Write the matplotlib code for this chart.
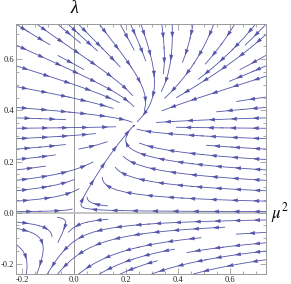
import numpy as np
import matplotlib
matplotlib.use("Agg")
import matplotlib.pyplot as plt
from matplotlib.patches import FancyArrowPatch
from matplotlib.ticker import MultipleLocator

plt.rcParams["mathtext.fontset"] = "stix"

# axis ranges read from the frame
mu_range = (-0.225, 0.74)
lam_range = (-0.24, 0.737)
major_ticks = [-0.2, 0.0, 0.2, 0.4, 0.6]
tick_labels = ["-0.2", "0.0", "0.2", "0.4", "0.6"]

# flow parameters
lam_star = 0.34       # lambda of the attractive fixed point
mu_rate = 3.0         # relaxation rate in mu
lam_rate = 4.0        # growth rate in lambda
null_a = 0.8          # mu-nullcline: mu = a*lam - b*lam^2
null_b = 0.37

line_color = "#5454aa"
arrow_gap = 19.0      # pixels between arrow heads along a line

mu = np.linspace(mu_range[0], mu_range[1], 300)
lam = np.linspace(lam_range[0], lam_range[1], 300)
M, L = np.meshgrid(mu, lam)
U = -mu_rate * (M - (null_a * L - null_b * L**2))
V = lam_rate * L * (lam_star - L)

fig = plt.figure(figsize=(2.91, 2.84), dpi=100)
ax = fig.add_axes([0.055, 0.035, 0.859, 0.880])

ax.axvline(0, color="#999999", lw=0.7, zorder=1)
ax.axhline(0, color="#bbbbbb", lw=1.2, zorder=1)

ax.set_xlim(*mu_range)
ax.set_ylim(*lam_range)

sp = ax.streamplot(M, L, U, V, density=0.85, color=line_color, linewidth=0.6,
                   arrowstyle="-", zorder=2)


def chain(segments):
    """Join streamplot segments back into whole polylines."""
    segments = [np.asarray(seg) for seg in segments]
    if any(len(seg) > 2 for seg in segments):
        return [seg for seg in segments if len(seg) > 1]
    lines, cur = [], []
    for seg in segments:
        if cur and np.allclose(cur[-1], seg[0]):
            cur.append(seg[1])
        else:
            if len(cur) > 1:
                lines.append(np.array(cur))
            cur = [seg[0], seg[1]]
    if len(cur) > 1:
        lines.append(np.array(cur))
    return lines


inv = ax.transData.inverted()
for line in chain(sp.lines.get_segments()):
    pix = ax.transData.transform(line)
    d = np.hypot(*np.diff(pix, axis=0).T)
    s = np.concatenate([[0], np.cumsum(d)])
    if s[-1] < 10:
        continue
    n = max(1, int(s[-1] // arrow_gap))
    marks = (np.arange(n) + 0.5) * s[-1] / n
    for m in marks:
        a = np.array([np.interp(m - 2, s, pix[:, 0]), np.interp(m - 2, s, pix[:, 1])])
        b = np.array([np.interp(m + 2, s, pix[:, 0]), np.interp(m + 2, s, pix[:, 1])])
        ax.add_patch(FancyArrowPatch(inv.transform(a), inv.transform(b),
                                     arrowstyle="-|>,head_length=0.9,head_width=0.3",
                                     mutation_scale=4, color=line_color,
                                     shrinkA=0, shrinkB=0, lw=0.3, zorder=3))

ax.set_xticks(major_ticks)
ax.set_yticks(major_ticks)
ax.set_xticklabels(tick_labels)
ax.set_yticklabels(tick_labels)
ax.xaxis.set_minor_locator(MultipleLocator(0.05))
ax.yaxis.set_minor_locator(MultipleLocator(0.05))
ax.tick_params(which="both", direction="in", top=True, right=True,
               colors="#888888", labelcolor="#222222", width=0.5,
               labelsize=6, pad=1.5)
ax.tick_params(which="major", length=4)
ax.tick_params(which="minor", length=2)
for lbl in ax.get_xticklabels() + ax.get_yticklabels():
    lbl.set_family("Liberation Serif")
for s in ax.spines.values():
    s.set_color("#999999")
    s.set_linewidth(0.7)

ax.text(0, 1.03, "\u03bb", transform=ax.get_xaxis_transform(),
        ha="center", va="bottom", fontsize=13, family="Liberation Serif",
        style="italic")
ax.text(1.02, 0, "$\\mu^2$", transform=ax.get_yaxis_transform(),
        ha="left", va="center", fontsize=12)

fig.savefig("out.png", dpi=100)
